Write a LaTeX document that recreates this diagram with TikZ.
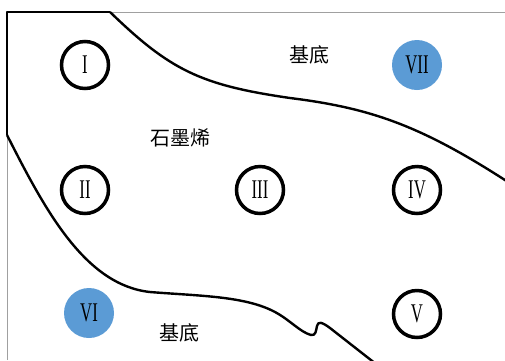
\documentclass[tikz,border=0pt]{standalone}
\usepackage{fontspec}
\newfontfamily\cjk{Noto Sans CJK SC}
\newfontfamily\numfont{Liberation Serif}
\definecolor{fillblue}{HTML}{5B9BD5}
\definecolor{framegray}{HTML}{A0A0A0}
\tikzset{
  ring/.style={circle,draw=black,line width=3.5pt,minimum size=47pt,inner sep=0pt},
  dot/.style={circle,fill=fillblue,minimum size=50pt,inner sep=0pt},
  numeral/.style={font=\numfont\fontsize{27}{27}\selectfont},
  cjklabel/.style={font=\cjk\fontsize{20}{20}\selectfont},
  boundary/.style={line width=2.4pt,line join=round},
}
\newcommand{\rn}[1]{\scalebox{0.62}[1]{#1}}
\begin{document}
\begin{tikzpicture}[x=1pt,y=-1pt]
\useasboundingbox (0,0) rectangle (505,360);
\begin{scope}
\clip (0,0) rectangle (505,360);
% gray frame
\draw[framegray,line width=1pt] (7,360) -- (7,12) -- (505,12);
% black boundary: left edge and top
\draw[boundary] (7,135) -- (7,12) -- (110,12);
% upper curve
\draw[boundary] (110,12) .. controls (170,70) and (200,85) .. (290,98)
  .. controls (370,108) and (420,125) .. (508,182);
% lower curve
\draw[boundary] (7,135) .. controls (45,210) and (85,285) .. (150,292)
  .. controls (200,296) and (245,296) .. (275,312)
  .. controls (290,320) and (300,332) .. (311,335)
  .. controls (316,336) and (316,330) .. (317,326)
  .. controls (318,321) and (322,322) .. (330,328)
  -- (376,364);
\end{scope}
% circles
\node[ring,numeral] (c1) at (85,65) {\rn{I}};
\node[ring,numeral] (c2) at (85,190) {\rn{II}};
\node[ring,numeral] (c3) at (260,190) {\rn{III}};
\node[ring,numeral] (c4) at (417,190) {\rn{IV}};
\node[ring,numeral] (c5) at (417,314) {\rn{V}};
\node[dot,numeral] (c6) at (89,313) {\rn{VI}};
\node[dot,numeral] (c7) at (417,65) {\rn{VII}};
% labels
\node[cjklabel] (t1) at (309,55) {基底};
\node[cjklabel] (t2) at (180,138) {石墨烯};
\node[cjklabel] (t3) at (179,333) {基底};
\end{tikzpicture}
\end{document}
